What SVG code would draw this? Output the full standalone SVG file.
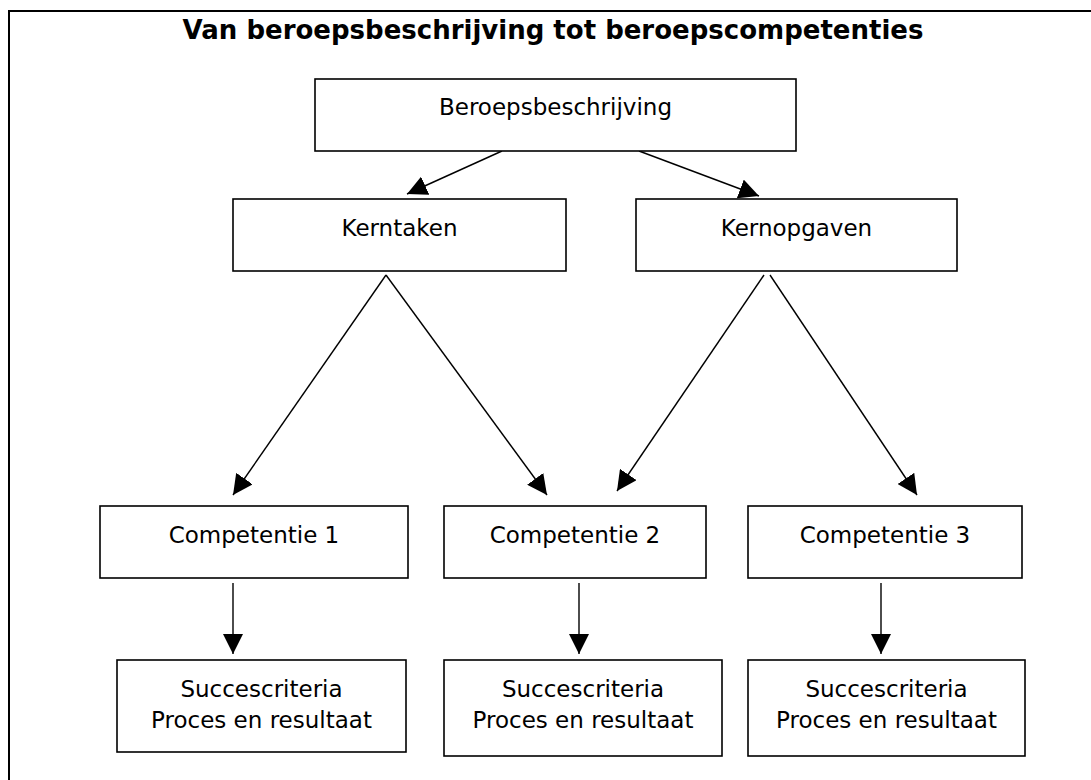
<svg xmlns="http://www.w3.org/2000/svg" width="1091" height="780" viewBox="0 0 1091 780">
<style>
.box{fill:#fff;stroke:#000;stroke-width:1.6}
.lbl{font-family:"DejaVu Sans","Liberation Sans",sans-serif;font-size:23px;fill:#000;text-anchor:middle}
.title{font-family:"DejaVu Sans","Liberation Sans",sans-serif;font-size:26px;font-weight:bold;fill:#000;text-anchor:middle}
.con{stroke:#000;stroke-width:1.4;fill:none;marker-end:url(#ah)}
.frame{stroke:#000;stroke-width:2;fill:none}
</style>
<defs>
<marker id="ah" markerUnits="userSpaceOnUse" markerWidth="20" markerHeight="20" refX="20" refY="10" orient="auto" viewBox="0 0 20 20">
<path d="M0,0 L20,10 L0,20 z" fill="#000"/>
</marker>
</defs>
<rect width="1091" height="780" fill="#fff"/>
<path class="frame" d="M9,780 L9,11 L1091,11"/>
<text class="title" x="553" y="39">Van beroepsbeschrijving tot beroepscompetenties</text>
<g id="connectors">
<line class="con" x1="502" y1="151" x2="407" y2="194"/>
<line class="con" x1="639" y1="151" x2="759" y2="196"/>
<line class="con" x1="386" y1="275" x2="233" y2="495"/>
<line class="con" x1="386" y1="275" x2="547" y2="495"/>
<line class="con" x1="764" y1="275" x2="617" y2="491"/>
<line class="con" x1="770" y1="275" x2="917" y2="495"/>
<line class="con" x1="233" y1="583" x2="233" y2="654"/>
<line class="con" x1="579" y1="583" x2="579" y2="654"/>
<line class="con" x1="881" y1="583" x2="881" y2="654"/>
</g>
<g id="beroepsbeschrijving">
<rect class="box" x="315" y="79" width="481" height="72"/>
<text class="lbl" x="555.5" y="115">Beroepsbeschrijving</text>
</g>
<g id="kerntaken">
<rect class="box" x="233" y="199" width="333" height="72"/>
<text class="lbl" x="399.5" y="236">Kerntaken</text>
</g>
<g id="kernopgaven">
<rect class="box" x="636" y="199" width="321" height="72"/>
<text class="lbl" x="796.5" y="236">Kernopgaven</text>
</g>
<g id="competentie1">
<rect class="box" x="100" y="506" width="308" height="72"/>
<text class="lbl" x="254" y="543">Competentie 1</text>
</g>
<g id="competentie2">
<rect class="box" x="444" y="506" width="262" height="72"/>
<text class="lbl" x="575" y="543">Competentie 2</text>
</g>
<g id="competentie3">
<rect class="box" x="748" y="506" width="274" height="72"/>
<text class="lbl" x="885" y="543">Competentie 3</text>
</g>
<g id="succes1">
<rect class="box" x="117" y="660" width="289" height="92"/>
<text class="lbl" x="261.5" y="697">Succescriteria</text>
<text class="lbl" x="261.5" y="728">Proces en resultaat</text>
</g>
<g id="succes2">
<rect class="box" x="444" y="660" width="278" height="96"/>
<text class="lbl" x="583" y="697">Succescriteria</text>
<text class="lbl" x="583" y="728">Proces en resultaat</text>
</g>
<g id="succes3">
<rect class="box" x="748" y="660" width="277" height="96"/>
<text class="lbl" x="886.5" y="697">Succescriteria</text>
<text class="lbl" x="886.5" y="728">Proces en resultaat</text>
</g>
</svg>
